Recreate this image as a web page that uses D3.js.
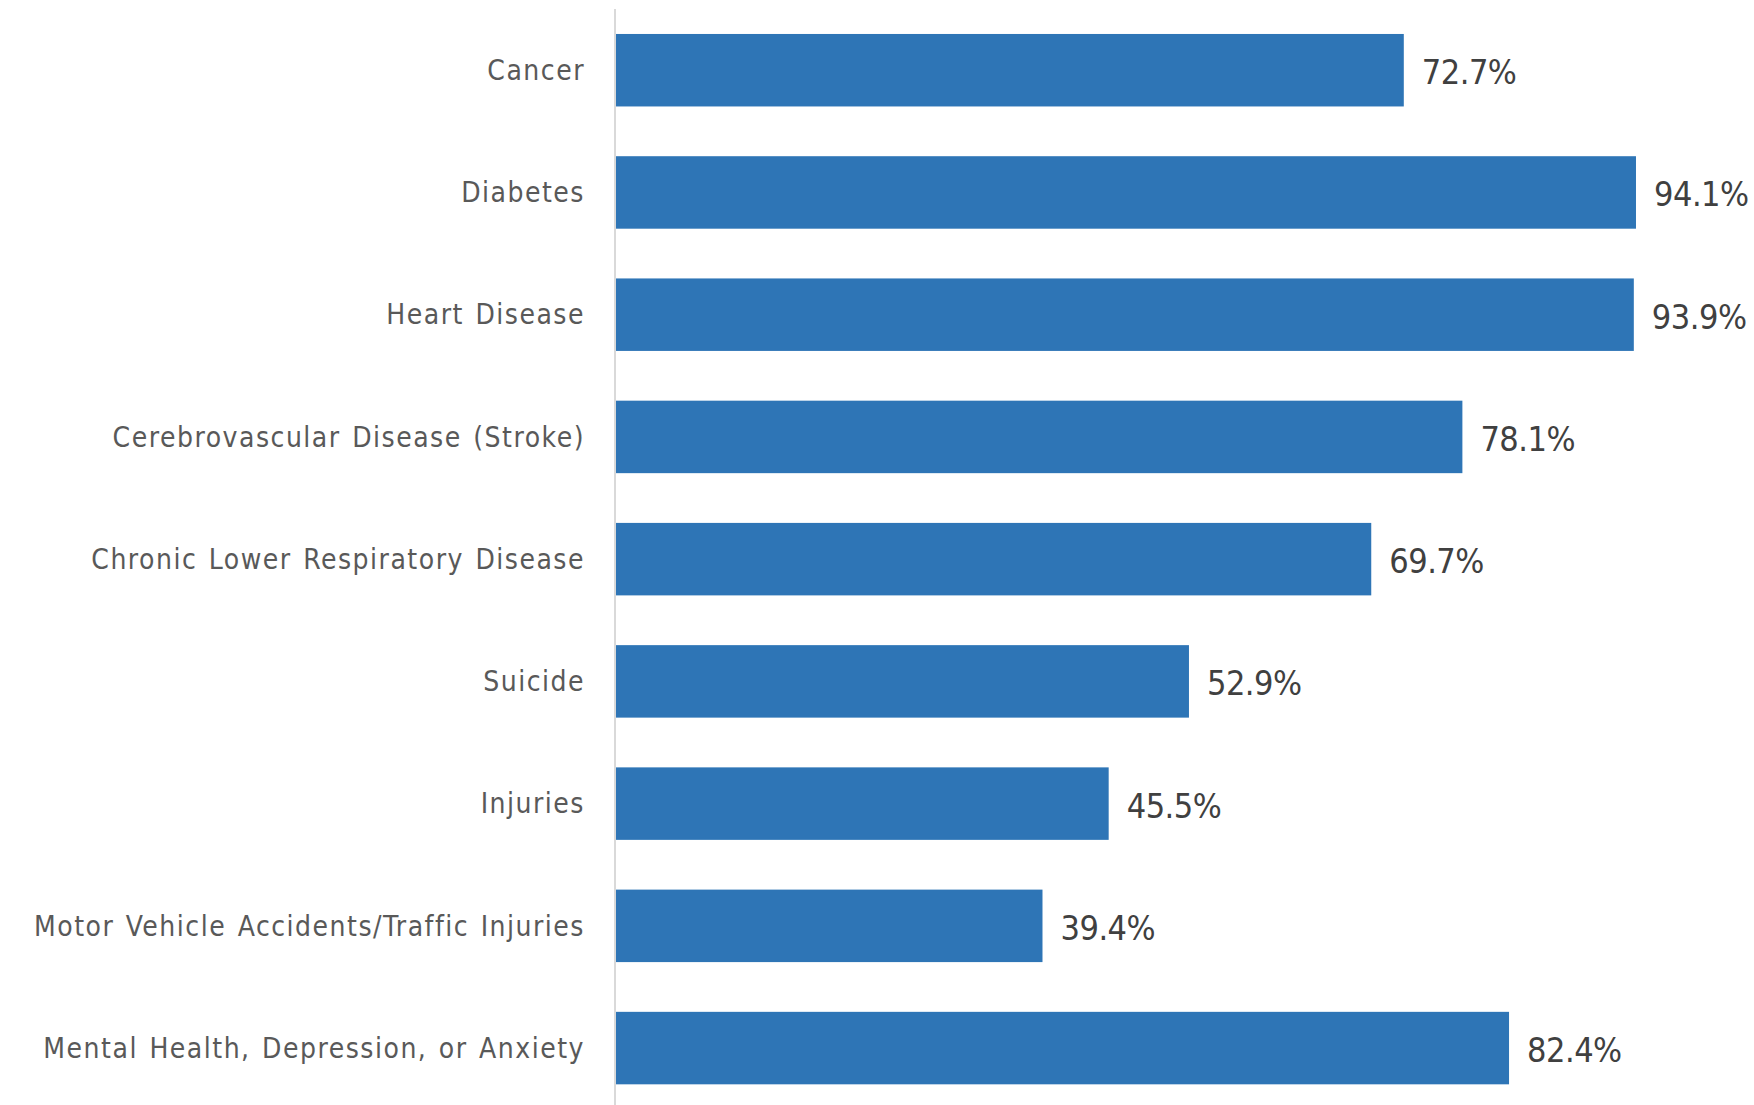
<!DOCTYPE html>
<html>
<head>
<meta charset="utf-8">
<script src="https://cdn.jsdelivr.net/npm/d3@7"></script>
<style>
  html, body { margin: 0; padding: 0; background: #ffffff; }
  svg { display: block; }
</style>
</head>
<body>
<svg id="chart" width="1754" height="1105"></svg>
<script>
const categories = [
  "Cancer",
  "Diabetes",
  "Heart Disease",
  "Cerebrovascular Disease (Stroke)",
  "Chronic Lower Respiratory Disease",
  "Suicide",
  "Injuries",
  "Motor Vehicle Accidents/Traffic Injuries",
  "Mental Health, Depression, or Anxiety"
];
const values = [72.7, 94.1, 93.9, 78.1, 69.7, 52.9, 45.5, 39.4, 82.4];
const valueLabels = ["72.7%", "94.1%", "93.9%", "78.1%", "69.7%", "52.9%", "45.5%", "39.4%", "82.4%"];

const svg = d3.select("#chart");
const axisX = 615;
const x = d3.scaleLinear().domain([0, 100]).range([axisX, axisX + 1085]);
const y = d3.scaleBand().domain(categories).range([9.1, 1109.2]).paddingInner(0.407).paddingOuter(0.2035);

// bars
svg.append("g").selectAll("rect")
  .data(categories)
  .join("rect")
  .attr("x", x(0))
  .attr("y", d => y(d))
  .attr("width", (d, i) => x(values[i]) - x(0))
  .attr("height", y.bandwidth())
  .attr("fill", "#2E75B6");

// axis line
svg.append("line")
  .attr("x1", axisX).attr("x2", axisX)
  .attr("y1", 9).attr("y2", 1105)
  .attr("stroke", "#D9D9D9").attr("stroke-width", 2);

// category labels
svg.append("g").selectAll("text")
  .data(categories)
  .join("text")
  .attr("x", axisX - 30)
  .attr("y", d => y(d) + y.bandwidth() / 2)
  .attr("dy", "0.35em")
  .attr("text-anchor", "end")
  .attr("font-family", "'DejaVu Sans Condensed', 'DejaVu Sans', sans-serif")
  .attr("font-stretch", "condensed")
  .attr("font-size", 28)
  .attr("letter-spacing", 1.5)
  .attr("word-spacing", 2)
  .attr("fill", "#595959")
  .text(d => d);

// value labels
svg.append("g").selectAll("text")
  .data(categories)
  .join("text")
  .attr("x", (d, i) => x(values[i]) + 18)
  .attr("y", d => y(d) + y.bandwidth() / 2 + 2)
  .attr("dy", "0.35em")
  .attr("text-anchor", "start")
  .attr("font-family", "'DejaVu Sans Condensed', 'DejaVu Sans', sans-serif")
  .attr("font-stretch", "condensed")
  .attr("font-size", 34)
  .attr("letter-spacing", -0.5)
  .attr("fill", "#404040")
  .text((d, i) => valueLabels[i]);
</script>
</body>
</html>
